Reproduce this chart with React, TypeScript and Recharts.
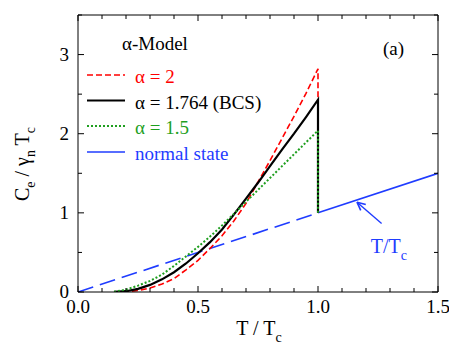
import { LineChart, Line, XAxis, YAxis, ReferenceLine, Legend } from 'recharts'

const FONT = 'Liberation Serif, DejaVu Serif, Times, serif'
const RED = '#ff0000'
const BLACK = '#000000'
const GREEN = '#1f9f1f'
const BLUE = '#1f3cff'

// reduced temperature T/Tc
const tOverTc = [0.15, 0.2, 0.25, 0.3, 0.35, 0.4, 0.45, 0.5, 0.55, 0.6, 0.65, 0.7, 0.75, 0.8, 0.85, 0.9, 0.95, 1.0]
// Ce / gamma_n Tc for each alpha
const cAlpha2 = [0, 0.003, 0.02, 0.05, 0.1, 0.17, 0.28, 0.4, 0.55, 0.71, 0.9, 1.12, 1.39, 1.66, 1.94, 2.22, 2.51, 2.82]
const cBcs = [0.002, 0.01, 0.04, 0.09, 0.16, 0.25, 0.36, 0.49, 0.63, 0.79, 0.98, 1.18, 1.38, 1.59, 1.8, 2.0, 2.21, 2.43]
const cAlpha15 = [0.003, 0.03, 0.08, 0.14, 0.22, 0.33, 0.45, 0.57, 0.7, 0.84, 0.99, 1.14, 1.29, 1.44, 1.59, 1.74, 1.89, 2.04]
// value just above Tc (normal state)
const tc = 1.0
const cNormalAtTc = 1.0

// normal state C = gamma T
const normalDashedT = [0, 1.0]
const normalSolidT = [1.0, 1.5]

const xTicks = [0, 0.1, 0.2, 0.3, 0.4, 0.5, 0.6, 0.7, 0.8, 0.9, 1.0, 1.1, 1.2, 1.3, 1.4, 1.5]
const xMajor = [0, 0.5, 1.0, 1.5]
const yTicks = [0, 0.5, 1, 1.5, 2, 2.5, 3, 3.5]
const yMajor = [0, 1, 2, 3]

const legendItems = [
  { label: 'α = 2', color: RED, dash: '6 3', width: 1.6 },
  { label: 'α = 1.764 (BCS)', color: BLACK, dash: undefined, width: 2.2 },
  { label: 'α = 1.5', color: GREEN, dash: '2 2', width: 2 },
  { label: 'normal state', color: BLUE, dash: undefined, width: 1.6 },
]

// arrow pointing at the T/Tc line (data coords)
const arrowTail = { x: 1.265, y: 0.866 }
const arrowHead = { x: 1.1625, y: 1.135 }
const arrowWings = [
  { x: 1.178, y: 1.031 },
  { x: 1.199, y: 1.105 },
]

const superPts = (cs: number[]) => [
  ...tOverTc.map((t, i) => ({ t, c: cs[i] })),
  { t: tc, c: cNormalAtTc },
]
const normalPts = (ts: number[]) => ts.map((t) => ({ t, c: t }))

const isIn = (v: number, list: number[]) => list.some((m) => Math.abs(m - v) < 1e-6)

const BottomTick = (props: any) => {
  const { x, y, payload } = props
  const major = isIn(payload.value, xMajor)
  return (
    <g>
      <line x1={x} x2={x} y1={y} y2={y - (major ? 6 : 4)} stroke="#000" />
      {major && (
        <text x={x} y={y + 21} textAnchor="middle" fontFamily={FONT} fontSize={19} fill="#000">
          {payload.value.toFixed(1)}
        </text>
      )}
    </g>
  )
}

const TopTick = (props: any) => {
  const { x, y, payload } = props
  const major = isIn(payload.value, xMajor)
  return <line x1={x} x2={x} y1={y} y2={y + (major ? 6 : 4)} stroke="#000" />
}

const LeftTick = (props: any) => {
  const { x, y, payload } = props
  const major = isIn(payload.value, yMajor)
  return (
    <g>
      <line x1={x} x2={x + (major ? 6 : 4)} y1={y} y2={y} stroke="#000" />
      {major && (
        <text x={x - 9} y={y + 6} textAnchor="end" fontFamily={FONT} fontSize={19} fill="#000">
          {String(payload.value)}
        </text>
      )}
    </g>
  )
}

const RightTick = (props: any) => {
  const { x, y, payload } = props
  const major = isIn(payload.value, yMajor)
  return <line x1={x} x2={x - (major ? 6 : 4)} y1={y} y2={y} stroke="#000" />
}

const renderLegend = () => (
  <svg width={200} height={150} style={{ display: 'block' }}>
    <text x={42} y={30} fontFamily={FONT} fontSize={19} fill="#000">
      α-Model
    </text>
    {legendItems.map((item, i) => {
      const ly = [55, 80.5, 106, 132][i]
      return (
        <g key={item.label}>
          <line x1={7} x2={45} y1={ly} y2={ly} stroke={item.color} strokeWidth={item.width} strokeDasharray={item.dash} />
          <text x={55} y={ly + 8} fontFamily={FONT} fontSize={19} fill={item.color}>
            {item.label}
          </text>
        </g>
      )
    })}
  </svg>
)

export default function App() {
  const W = 449
  const H = 349
  return (
    <div style={{ position: 'relative', width: W, height: H }}>
      <LineChart width={W} height={H} margin={{ top: 2, right: 9, bottom: 35, left: 30 }}>
        <XAxis
          dataKey="t"
          type="number"
          domain={[0, 1.5]}
          ticks={xTicks}
          interval={0}
          height={30}
          tickSize={0}
          tickMargin={0}
          tickLine={false}
          tick={BottomTick}
          axisLine={{ stroke: '#000' }}
          allowDataOverflow
        />
        <XAxis
          xAxisId="top"
          orientation="top"
          dataKey="t"
          type="number"
          domain={[0, 1.5]}
          ticks={xTicks}
          interval={0}
          height={5}
          tickSize={0}
          tickMargin={0}
          tickLine={false}
          tick={TopTick}
          axisLine={{ stroke: '#000' }}
          allowDataOverflow
        />
        <YAxis
          type="number"
          domain={[0, 3.5]}
          ticks={yTicks}
          interval={0}
          width={40}
          tickSize={0}
          tickMargin={0}
          tickLine={false}
          tick={LeftTick}
          axisLine={{ stroke: '#000' }}
          allowDataOverflow
        />
        <YAxis
          yAxisId="right"
          orientation="right"
          type="number"
          domain={[0, 3.5]}
          ticks={yTicks}
          interval={0}
          width={10}
          tickSize={0}
          tickMargin={0}
          tickLine={false}
          tick={RightTick}
          axisLine={{ stroke: '#000' }}
          allowDataOverflow
        />
        <Legend
          verticalAlign="middle"
          align="center"
          layout="horizontal"
          content={renderLegend}
          wrapperStyle={{ top: 12, left: 72, width: 200, height: 150 }}
        />
        <Line data={normalPts(normalDashedT)} dataKey="c" type="linear" stroke={BLUE} strokeWidth={1.6} strokeDasharray="16 7" dot={false} isAnimationActive={false} />
        <Line data={normalPts(normalSolidT)} dataKey="c" type="linear" stroke={BLUE} strokeWidth={1.6} dot={false} isAnimationActive={false} />
        <Line data={superPts(cAlpha2)} dataKey="c" type="linear" stroke={RED} strokeWidth={1.6} strokeDasharray="6 3" dot={false} isAnimationActive={false} />
        <Line data={superPts(cBcs)} dataKey="c" type="linear" stroke={BLACK} strokeWidth={2.2} dot={false} isAnimationActive={false} />
        <Line data={superPts(cAlpha15)} dataKey="c" type="linear" stroke={GREEN} strokeWidth={2} strokeDasharray="2 2" dot={false} isAnimationActive={false} />
        <ReferenceLine segment={[arrowTail, arrowHead]} stroke={BLUE} strokeWidth={1.4} />
        {arrowWings.map((w, i) => (
          <ReferenceLine key={i} segment={[arrowHead, w]} stroke={BLUE} strokeWidth={1.6} />
        ))}
      </LineChart>
      <svg width={W} height={H} style={{ position: 'absolute', left: 0, top: 0, pointerEvents: 'none' }}>
        <text x={375} y={47} fontFamily={FONT} fontSize={19} fill="#000">
          (a)
        </text>
        <text x={362.7} y={245} fontFamily={FONT} fontSize={20} fill={BLUE}>
          T/T
          <tspan dy={7} fontSize={14}>c</tspan>
        </text>
        <text x={251} y={327} textAnchor="middle" fontFamily={FONT} fontSize={20} fill="#000">
          T / T
          <tspan dy={7} fontSize={14}>c</tspan>
        </text>
        <text x={21} y={156} transform="rotate(-90, 21, 156)" textAnchor="middle" fontFamily={FONT} fontSize={20} fill="#000">
          C
          <tspan dy={6} fontSize={14}>e</tspan>
          <tspan dy={-6}> / γ</tspan>
          <tspan dy={6} fontSize={14}>n</tspan>
          <tspan dy={-6}> T</tspan>
          <tspan dy={6} fontSize={14}>c</tspan>
        </text>
      </svg>
    </div>
  )
}
